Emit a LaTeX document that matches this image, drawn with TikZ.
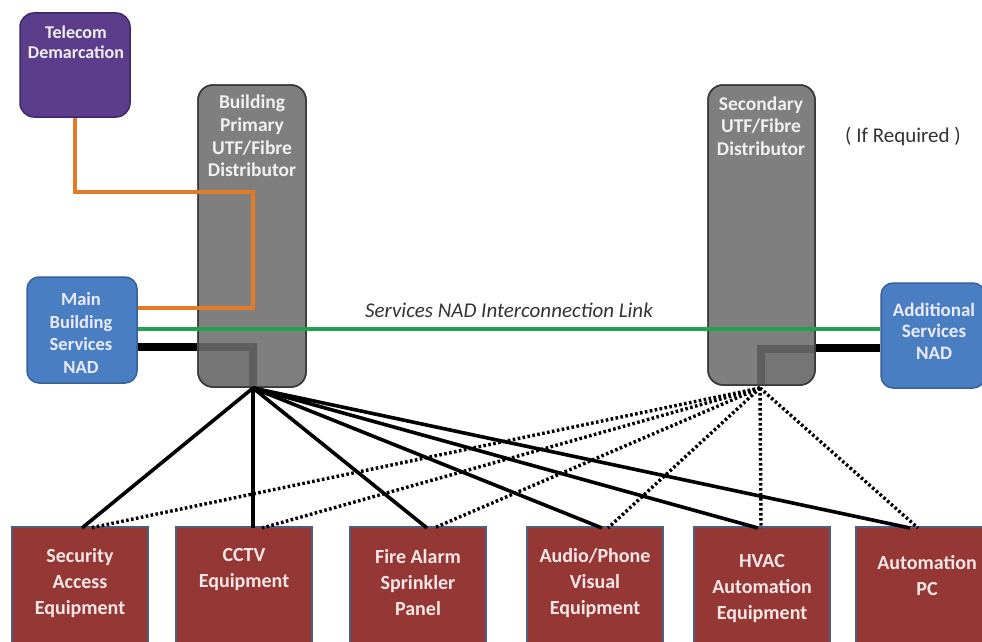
\documentclass[tikz,border=0pt]{standalone}
\usepackage{fontspec}
\setmainfont{Carlito}
\definecolor{purpfill}{HTML}{5C3D8B}
\definecolor{purpdraw}{HTML}{3E2866}
\definecolor{grayfill}{HTML}{7F7F7F}
\definecolor{graydraw}{HTML}{3A3A3A}
\definecolor{grayinner}{HTML}{757575}
\definecolor{grayband}{HTML}{5E5E5E}
\definecolor{bluefill}{HTML}{4A7EC2}
\definecolor{bluedraw}{HTML}{36609A}
\definecolor{redfill}{HTML}{953735}
\definecolor{reddraw}{HTML}{4D5E80}
\definecolor{orangeline}{HTML}{E47A25}
\definecolor{greenline}{HTML}{22A04E}
\definecolor{labeltext}{HTML}{333333}
\definecolor{boxtext}{HTML}{F6E6E6}
\begin{document}
\begin{tikzpicture}[x=1pt,y=-1pt,
  purpbox/.style={draw=purpdraw, line width=1.5pt, fill=purpfill, rounded corners=14pt, inner sep=0pt},
  graybox/.style={draw=graydraw, line width=1.5pt, fill=grayfill, rounded corners=15pt, inner sep=0pt},
  bluebox/.style={draw=bluedraw, line width=1.5pt, fill=bluefill, rounded corners=12pt, inner sep=0pt},
  redbox/.style={draw=reddraw, line width=1.5pt, fill=redfill, inner sep=0pt, minimum width=136pt, minimum height=140pt},
  toptext/.style={align=center, inner sep=0pt, text=white!88!gray, font=\bfseries\fontsize{18}{20}\selectfont},
  distext/.style={align=center, inner sep=0pt, text=white!88!gray, font=\bfseries\fontsize{19.5}{22.7}\selectfont},
  nadtext/.style={align=center, inner sep=0pt, text=white!92!blue, font=\bfseries\fontsize{18.5}{22.5}\selectfont},
  redtext/.style={align=center, inner sep=0pt, text=boxtext, font=\bfseries\fontsize{20}{26}\selectfont},
  solidlink/.style={line width=3.6pt, black},
  dottedlink/.style={line width=3.4pt, black, dash pattern=on 2.6pt off 2.4pt},
  orangelink/.style={line width=4pt, orangeline},
  greenlink/.style={line width=4pt, greenline},
  blacklink/.style={line width=7.5pt, black}
]
\useasboundingbox (0,0) rectangle (982,642);
\clip (0,0) rectangle (982,642);

% boxes
\node[purpbox, minimum width=110pt, minimum height=104pt] (tel) at (75,65) {};
\node[toptext] at (76,42) {Telecom\\Demarcation};

\node[graybox, minimum width=108pt, minimum height=302pt] (pd) at (252,236) {};
\node[graybox, minimum width=107pt, minimum height=300pt] (sd) at (761.5,235) {};

% darker inner port areas
\begin{scope}
  \clip[rounded corners=15pt] (198.8,85.8) rectangle (305.2,386.2);
  \fill[grayinner] (200,343) rectangle (257,387);
  \draw[grayband, line width=8pt] (199,347) -- (253,347) -- (253,388);
\end{scope}
\begin{scope}
  \clip[rounded corners=15pt] (708.8,85.8) rectangle (814.2,384.2);
  \fill[grayinner] (757,345) rectangle (815,386);
  \draw[grayband, line width=8pt] (761,349) -- (814,349);
  \draw[grayband, line width=8pt] (761,345) -- (761,386);
\end{scope}
\node[graybox, draw=graydraw, fill=none, minimum width=108pt, minimum height=302pt] at (252,236) {};
\node[graybox, draw=graydraw, fill=none, minimum width=107pt, minimum height=300pt] at (761.5,235) {};

\node[distext] at (252,136) {Building\\Primary\\UTF/Fibre\\Distributor};
\node[distext] at (761,126) {Secondary\\UTF/Fibre\\Distributor};
\node[text=labeltext, inner sep=0pt, font=\fontsize{21}{24}\selectfont] (ifr) at (903,137) {( If Required )};

\node[bluebox, minimum width=110pt, minimum height=106pt] (mnad) at (82,330) {};
\node[nadtext] at (81,333) {Main\\Building\\Services\\NAD};
\node[bluebox, minimum width=104pt, minimum height=105pt] (anad) at (933,335.5) {};
\node[nadtext, font=\bfseries\fontsize{19}{21.5}\selectfont] at (934,331) {Additional\\Services\\NAD};

% links between top components
\coordinate (o1) at (253,192);
\coordinate (o2) at (253,308);
\draw[orangelink, line join=miter] (tel.south) |- (o1) -- (o2) -- (o2 -| mnad.east);
\coordinate (gy) at (500,329);
\draw[greenlink] (gy -| mnad.east) -- (gy -| anad.west);
\coordinate (by) at (500,347);
\draw[blacklink] (by -| mnad.east) -- (by -| pd.west);
\coordinate (by2) at (500,348);
\draw[blacklink] (by2 -| sd.east) -- (by2 -| anad.west);

\node[text=labeltext, inner sep=0pt, font=\itshape\fontsize{21}{24}\selectfont] (lnk) at (509,310) {Services NAD Interconnection Link};

% equipment boxes
\node[redbox] (sec) at (80,597) {};
\node[redtext] at (80,583) {Security\\Access\\Equipment};
\node[redbox] (cctv) at (244,597) {};
\node[redtext] at (244,570) {CCTV\\Equipment};
\node[redbox] (fire) at (418,597) {};
\node[redtext] at (418,583) {Fire Alarm\\Sprinkler\\Panel};
\node[redbox] (av) at (595,597) {};
\node[redtext] at (595,583) {Audio/Phone\\Visual\\Equipment};
\node[redbox] (hvac) at (762,597) {};
\node[redtext] at (762,589) {HVAC\\Automation\\Equipment};
\node[redbox] (pc) at (924,597) {};
\node[redtext] at (927,576) {Automation\\PC};

% hubs
\coordinate (hubA) at (253,388);
\coordinate (hubB) at (760,388);

% attachment points
\coordinate (sA) at (82,528);
\coordinate (cA) at (253,528);
\coordinate (fA) at (427,528);
\coordinate (aA) at (602,528);
\coordinate (hA) at (758,528);
\coordinate (pA) at (910,528);
\coordinate (sB) at (90,528);
\coordinate (cB) at (262,528);
\coordinate (fB) at (434,528);
\coordinate (aB) at (608,528);
\coordinate (hB) at (761,528);
\coordinate (pB) at (918,528);

\foreach \t in {sB,cB,fB,aB,hB,pB} \draw[dottedlink] (hubB) -- (\t);
\foreach \t in {sA,cA,fA,aA,hA,pA} \draw[solidlink] (hubA) -- (\t);
\end{tikzpicture}
\end{document}
